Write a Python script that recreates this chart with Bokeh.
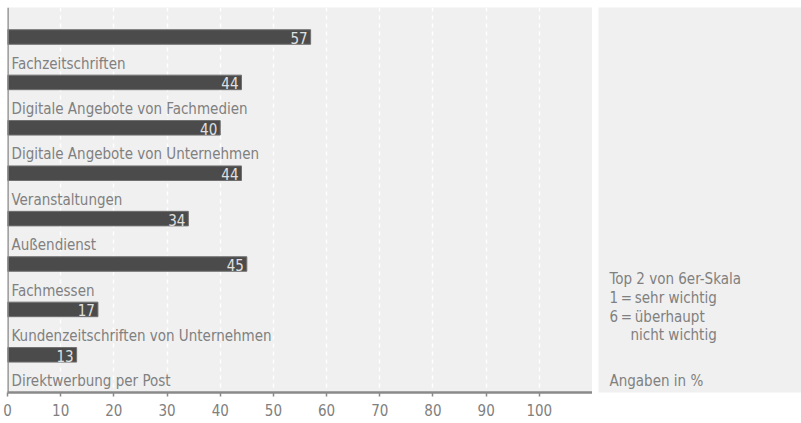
from bokeh.plotting import figure
from bokeh.layouts import row
from bokeh.models import Range1d, FixedTicker, Span, ColumnDataSource
from bokeh.core.properties import value
from bokeh.embed import file_html
from bokeh.resources import INLINE

categories = [
    "Fachzeitschriften",
    "Digitale Angebote von Fachmedien",
    "Digitale Angebote von Unternehmen",
    "Veranstaltungen",
    "Außendienst",
    "Fachmessen",
    "Kundenzeitschriften von Unternehmen",
    "Direktwerbung per Post",
]
values = [57, 44, 40, 44, 34, 45, 17, 13]
x_ticks = [0, 10, 20, 30, 40, 50, 60, 70, 80, 90, 100]
note_lines = ["Top 2 von 6er-Skala", "1\u2009=\u2009sehr wichtig", "6\u2009=\u2009überhaupt", "nicht wichtig", "", "Angaben in %"]

FONT = "DejaVu Sans Condensed"
BG = "#f0f0f0"
TXT = "#808080"

idx = list(range(len(categories)))
src = ColumnDataSource(dict(y=idx, v=values, lab=categories, vl=[str(v) for v in values]))

p = figure(width=592, height=423, output_backend="svg", toolbar_location=None,
           x_range=Range1d(0, 110), y_range=Range1d(7.83, -0.65),
           min_border_left=7, min_border_right=0, min_border_top=7, min_border_bottom=31)
p.background_fill_color = BG
p.border_fill_color = "white"
p.outline_line_color = None
p.yaxis.visible = False
p.ygrid.visible = False

p.xgrid.ticker = FixedTicker(ticks=x_ticks[1:])
p.xgrid.grid_line_color = "white"
p.xgrid.grid_line_width = 1.5
p.xgrid.grid_line_dash = "4 4"

xa = p.xaxis[0]
xa.ticker = FixedTicker(ticks=x_ticks)
xa.axis_line_color = "#8a8a8a"
xa.axis_line_width = 2.5
xa.major_tick_line_color = "#8a8a8a"
xa.major_tick_line_width = 1.5
xa.major_tick_in = 0
xa.major_tick_out = 4
xa.minor_tick_line_color = None
xa.major_label_text_font = FONT
xa.major_label_text_font_size = "15px"
xa.major_label_text_color = TXT
xa.major_label_standoff = 7

p.add_layout(Span(location=0, dimension="height", line_color="#8a8a8a", line_width=2.5))

p.hbar(y="y", left=0, right="v", height=0.32, source=src,
       fill_color="#4b4b4b", line_color="#707070", line_width=1)
p.text(x="v", y="y", text="vl", source=src, x_offset=-3, y_offset=1,
       text_align="right", text_baseline="middle", text_color="#e0e0e0",
       text_font=value(FONT), text_font_size="15px")
p.text(x=0, y="y", text="lab", source=src, x_offset=4, y_offset=26.5,
       text_align="left", text_baseline="alphabetic", text_color=TXT,
       text_font=value(FONT), text_font_size="15px")

p2 = figure(width=203, height=423, output_backend="svg", toolbar_location=None,
            x_range=Range1d(0, 203), y_range=Range1d(385, 0),
            min_border_left=0, min_border_right=0, min_border_top=7, min_border_bottom=31)
p2.background_fill_color = BG
p2.border_fill_color = "white"
p2.outline_line_color = None
p2.axis.visible = False
p2.grid.visible = False
nx = [11, 11, 11, 32, 11, 11]
ny = [271, 290, 309, 327, 347, 373]
p2.text(x=nx, y=ny, text=note_lines, text_align="left", text_baseline="alphabetic",
        text_color=TXT, text_font=value(FONT), text_font_size="15px")

layout = row(p, p2, spacing=6)
open("out.html", "w").write(file_html(layout, INLINE))
